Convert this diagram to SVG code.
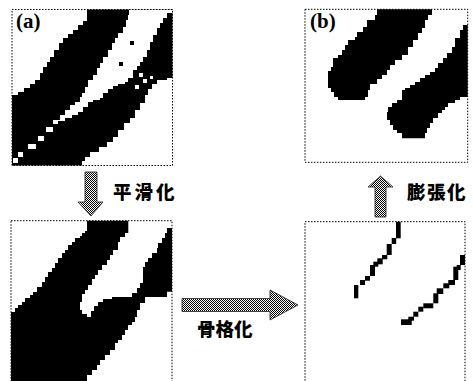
<svg xmlns="http://www.w3.org/2000/svg" width="473" height="381" viewBox="0 0 473 381">
<defs>
<pattern id="dither" width="2" height="2" patternUnits="userSpaceOnUse">
<rect width="2" height="2" fill="#fff"/>
<rect width="1" height="1" fill="#000"/>
<rect x="1" y="1" width="1" height="1" fill="#000"/>
</pattern>
<style>
.frame{fill:none;stroke:#000;stroke-width:1;stroke-dasharray:1.5 1.5}
.ink{fill:#000}
.hole{fill:#fff}
.arrow{fill:url(#dither);stroke:#333;stroke-width:0.9}
.lbl{font-family:"Liberation Serif",serif;font-weight:bold;font-size:21px;fill:#000}
.op{font-family:"Noto Sans CJK JP","Noto Sans CJK SC",sans-serif;font-weight:900;font-size:18.5px;fill:#000}
</style>
</defs>
<rect width="473" height="381" fill="#fff"/>

<g id="panel-a">
<path class="ink" d="M87,9.5 H172.5 V78 H167 V80 H157 V84 H152 V89 H148 V95 H145 V103 H140 V110 H135 V118 H130 V123 H124 V130 H118 V137 H113 V142 H107 V147 H99 V152 H90 V157 H85 V161 H82 V165.5 H12 V95 H18 V92 H24 V88 H30 V84 H35 V80 H40 V73 H43 V67 H47 V62 H50 V57 H54 V50 H59 V43 H63 V38 H68 V34 H73 V30 H78 V25 H83 V21 H87 Z"/>
<path class="hole" d="M129,9.5 H172.5 V13 H167 V18 H163 V23 H160 V28 H157 V35 H153 V42 H150 V50 H147 V57 H143 V62 H140 V66 H137 V70 H133 V78 H128 V82 H125 V84 H118 V86 H113 V89 H108 V93 H103 V98 H100 V100 H93 V102 H88 V107 H83 V112 H78 V115 H72 V118 H65 V121 H58 V124 H53 V120 H60 V115 H65 V110 H70 V105 H75 V102 H80 V97 H82 V93 H85 V87 H88 V80 H93 V75 H97 V68 H100 V63 H103 V57 H108 V50 H112 V43 H115 V38 H118 V33 H123 V27 H126 V20 H128 V15 H129 Z"/>
<rect class="hole" x="13" y="158" width="5" height="5"/>
<rect class="hole" x="18" y="152" width="5" height="5"/>
<rect class="hole" x="28" y="144" width="8" height="5"/>
<rect class="hole" x="38" y="136" width="6" height="5"/>
<rect class="hole" x="46" y="127" width="7" height="5"/>
<rect class="hole" x="143" y="79" width="4" height="4"/>
<rect class="hole" x="150" y="76" width="3" height="3"/>
<rect class="hole" x="135" y="85" width="4" height="4"/>
<rect class="hole" x="139" y="73" width="4" height="4"/>
<rect class="ink" x="130" y="41" width="4" height="4"/>
<rect class="ink" x="119" y="62" width="4" height="4"/>
<rect class="frame" x="12" y="9.5" width="160.5" height="156"/>
<text class="lbl" x="16" y="27.5">(a)</text>
</g>

<g id="panel-b">
<path class="ink" d="M377,9.3 V15 H375 V20 H367 V27 H363 V32 H357 V37 H355 V40 H348 V45 H345 V50 H342 V55 H338 V58 H333 V67 H331 V71 H328 V88 H331 V92 H334 V97 H338 V100 H365 V97 H368 V90 H370 V84 H377 V79 H382 V75 H387 V70 H390 V65 H395 V60 H402 V55 H408 V47 H413 V40 H418 V33 H422 V28 H425 V20 H428 V15 H432 V9.3 Z"/>
<path class="ink" d="M467.7,25 H463 V30 H460 V38 H455 V47 H452 V53 H447 V58 H443 V63 H438 V68 H435 V72 H430 V75 H425 V78 H420 V82 H415 V85 H410 V88 H405 V90 H402 V100 H397 V103 H392 V107 H388 V112 H387 V120 H390 V125 H393 V130 H397 V133 H402 V138.3 H425 V133 H427 V128 H430 V123 H433 V118 H438 V113 H442 V110 H445 V107 H448 V103 H455 V100 H460 V97 H467.7 Z"/>
<rect class="frame" x="305" y="9.3" width="162.7" height="153"/>
<text class="lbl" x="310" y="27.5">(b)</text>
</g>

<g id="panel-smoothed">
<path class="ink" d="M87,220.7 H128.3 V233 H125 V237 H120 V242 H118 V250 H113 V255 H110 V260 H107 V265 H102 V270 H98 V275 H95 V279 H92 V285 H88 V290 H85 V294 H82 V302 H80 V310 H82 V314 H87 V317 H91 V311 H94 V306 H98 V302 H103 V299 H112 V297 H132 V293 H137 V288 H140 V283 H143 V267 H145 V262 H148 V258 H152 V253 H157 V248 H158 V243 H162 V238 H165 V233 H167 V228 H172 V291.7 H167 V297 H145 V303 H140 V310 H137 V317 H135 V322 H132 V325 H128 V330 H125 V335 H122 V340 H118 V343 H115 V350 H110 V355 H105 V360 H100 V365 H97 V370 H92 V375 H87 V381 H11 V312 H15 V308 H18 V305 H22 V302 H25 V298 H30 V295 H33 V292 H37 V287 H42 V282 H45 V277 H48 V272 H52 V268 H55 V263 H58 V258 H62 V253 H65 V250 H68 V245 H72 V242 H75 V238 H80 V236 H82 V233 H85 V231 H87 Z"/>
<rect class="frame" x="11" y="220.7" width="161" height="170"/>
</g>

<g id="panel-skeleton">
<rect class="ink" x="396" y="221.7" width="4.7" height="16.6"/>
<rect class="ink" x="391.7" y="238" width="4.5" height="6"/>
<rect class="ink" x="386.7" y="244" width="5" height="11"/>
<rect class="ink" x="382" y="255" width="5.3" height="4.3"/>
<rect class="ink" x="377.3" y="258.3" width="5.4" height="6"/>
<rect class="ink" x="373.3" y="261.7" width="5" height="5"/>
<rect class="ink" x="370" y="265" width="5" height="11"/>
<rect class="ink" x="365" y="276" width="5" height="4.7"/>
<rect class="ink" x="360" y="280" width="5" height="5"/>
<rect class="ink" x="354" y="285" width="4.3" height="13.3"/>
<rect class="ink" x="460" y="255" width="5" height="10"/>
<rect class="ink" x="456.7" y="265" width="4" height="5"/>
<rect class="ink" x="453.3" y="266.7" width="5" height="13.3"/>
<rect class="ink" x="448.3" y="280" width="6.7" height="5"/>
<rect class="ink" x="443.3" y="283.3" width="6" height="5"/>
<rect class="ink" x="436.7" y="288.3" width="6.6" height="5.7"/>
<rect class="ink" x="433.3" y="293.3" width="5" height="10"/>
<rect class="ink" x="423.3" y="303.3" width="10" height="5"/>
<rect class="ink" x="418.3" y="306.7" width="5" height="5"/>
<rect class="ink" x="413.3" y="311.7" width="5" height="5"/>
<rect class="ink" x="408.3" y="316.7" width="5.7" height="4"/>
<rect class="ink" x="401" y="319.3" width="10.7" height="5.7"/>
<rect class="frame" x="305" y="221.7" width="160" height="170"/>
</g>

<g id="connectors">
<g id="arrow-smooth">
<path class="arrow" d="M85,172 H97 V202 H103 L91,216 L78,202 H85 Z"/>
<text class="op" x="113" y="199" letter-spacing="3">平滑化</text>
</g>
<g id="arrow-skeleton">
<path class="arrow" d="M182,298.5 H270 V290 L298,305 L270,320 V311.5 H182 Z"/>
<text class="op" x="197" y="336">骨格化</text>
</g>
<g id="arrow-dilate">
<path class="arrow" d="M375,217 V187 H368 L380.5,176 L393,187 H386 V217 Z"/>
<text class="op" x="407" y="199" letter-spacing="1.5">膨張化</text>
</g>
</g>
</svg>
